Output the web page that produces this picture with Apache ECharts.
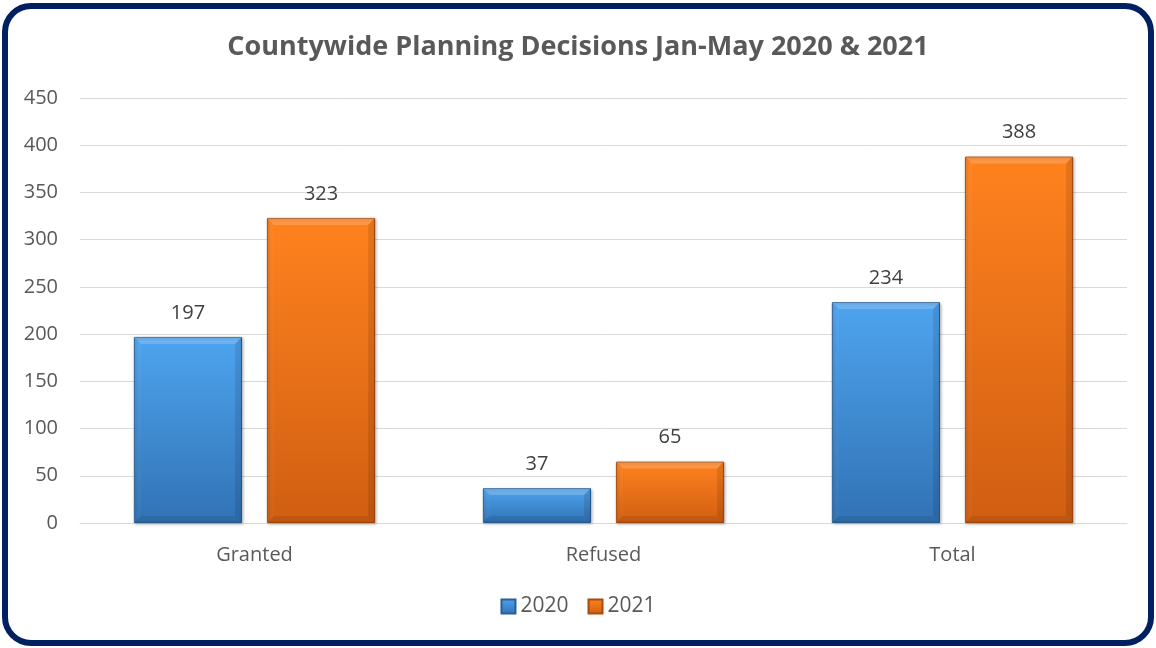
<!DOCTYPE html>
<html>
<head>
<meta charset="utf-8">
<script src="https://cdn.jsdelivr.net/npm/echarts@6/dist/echarts.min.js"></script>
<style>
  html, body { margin: 0; padding: 0; background: #fff; }
  #chart { width: 1156px; height: 648px; }
</style>
</head>
<body>
<div id="chart"></div>
<script>
const categories = ['Granted', 'Refused', 'Total']
const years = ['2020', '2021']
const values2020 = [197, 37, 234]
const values2021 = [323, 65, 388]

const fontFamily = '"Open Sans", sans-serif'
const barRatio = 0.31
const gapRatio = 0.23

const myChart = echarts.init(document.getElementById('chart'))

const blueFill = new echarts.graphic.LinearGradient(0, 0, 0, 1, [
  { offset: 0, color: '#4ea4ef' },
  { offset: 1, color: '#3172b4' }
])
const orangeFill = new echarts.graphic.LinearGradient(0, 0, 0, 1, [
  { offset: 0, color: '#ff821e' },
  { offset: 1, color: '#d05e12' }
])

const labelStyle = {
  show: true,
  position: 'top',
  distance: 14,
  fontSize: 20,
  color: '#404040',
  fontFamily
}

// bevel overlay, drawn on top of each bar through the axis scales
const bevelData = categories.map((c, i) => [i, values2020[i], values2021[i]])

const bevelRender = (params, api) => {
  const idx = api.value(0)
  const band = api.size([1, 0])[0]
  const w = band * barRatio
  const g = w * gapRatio
  const base = api.coord([idx, 0])
  const children = []
  ;[1, 2].forEach((dim, k) => {
    const top = api.coord([idx, api.value(dim)])
    const cx = base[0] + (k === 0 ? -1 : 1) * (w + g) / 2
    const x0 = cx - w / 2
    const x1 = cx + w / 2
    const y0 = top[1]
    const y1 = base[1]
    const b = Math.min(7, (y1 - y0) / 3)
    const poly = (pts, fill) => ({
      type: 'polygon',
      shape: { points: pts },
      style: { fill }
    })
    children.push(poly([[x0, y0], [x1, y0], [x1 - b, y0 + b], [x0 + b, y0 + b]], 'rgba(255,255,255,0.18)'))
    children.push(poly([[x0, y1], [x1, y1], [x1 - b, y1 - b], [x0 + b, y1 - b]], 'rgba(0,0,0,0.08)'))
    children.push(poly([[x0, y0], [x0 + b, y0 + b], [x0 + b, y1 - b], [x0, y1]], 'rgba(255,255,255,0.03)'))
    children.push(poly([[x1, y0], [x1 - b, y0 + b], [x1 - b, y1 - b], [x1, y1]], 'rgba(0,0,0,0.1)'))
  })
  return { type: 'group', children }
}

const option = {
  animation: false,
  title: {
    text: 'Countywide Planning Decisions Jan-May 2020 & 2021',
    left: 'center',
    top: 29,
    textStyle: {
      fontSize: 27,
      fontWeight: 'bold',
      color: '#595959',
      fontFamily
    }
  },
  legend: {
    data: years,
    bottom: 26,
    left: 'center',
    itemWidth: 14,
    itemHeight: 14,
    itemGap: 19,
    icon: 'rect',
    textStyle: { fontSize: 21, color: '#595959', fontFamily }
  },
  grid: {
    left: 80,
    right: 29,
    top: 98,
    bottom: 125,
    containLabel: false
  },
  xAxis: {
    type: 'category',
    data: categories,
    axisLine: { lineStyle: { color: '#d9d9d9', width: 1 } },
    axisTick: { show: false },
    axisLabel: { fontSize: 20, color: '#595959', margin: 22, fontFamily }
  },
  yAxis: {
    type: 'value',
    min: 0,
    max: 450,
    interval: 50,
    axisLine: { show: false },
    axisTick: { show: false },
    axisLabel: { fontSize: 20, color: '#595959', margin: 22, fontFamily },
    splitLine: { lineStyle: { color: '#d9d9d9', width: 1 } }
  },
  series: [
    {
      name: '2020',
      type: 'bar',
      data: values2020,
      barWidth: barRatio * 100 + '%',
      barGap: gapRatio * 100 + '%',
      itemStyle: {
        color: blueFill,
        borderColor: '#2a5f96',
        borderWidth: 1,
        shadowColor: 'rgba(0,0,0,0.25)',
        shadowBlur: 3,
        shadowOffsetX: 1,
        shadowOffsetY: 1
      },
      label: labelStyle
    },
    {
      name: '2021',
      type: 'bar',
      data: values2021,
      barWidth: barRatio * 100 + '%',
      itemStyle: {
        color: orangeFill,
        borderColor: '#a84b0e',
        borderWidth: 1,
        shadowColor: 'rgba(0,0,0,0.25)',
        shadowBlur: 3,
        shadowOffsetX: 1,
        shadowOffsetY: 1
      },
      label: labelStyle
    },
    {
      name: 'bevel',
      type: 'custom',
      silent: true,
      z: 5,
      data: bevelData,
      encode: { x: 0, y: [1, 2] },
      renderItem: bevelRender
    }
  ],
  graphic: [
    {
      type: 'rect',
      silent: true,
      z: 100,
      shape: { x: 5, y: 6, width: 1146, height: 637, r: 26 },
      style: { fill: 'none', stroke: '#002060', lineWidth: 6 }
    }
  ]
}

myChart.setOption(option)
</script>
</body>
</html>
